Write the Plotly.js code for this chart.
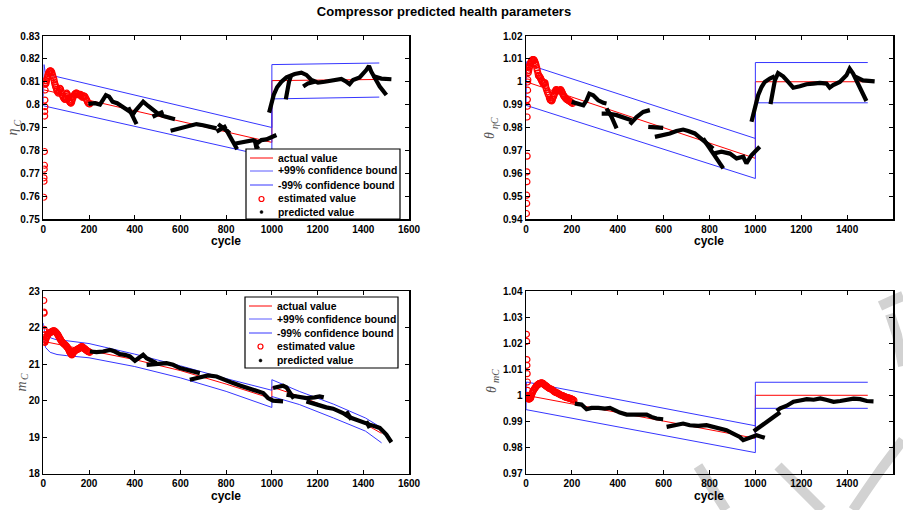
<!DOCTYPE html>
<html>
<head>
<meta charset="utf-8">
<script src="https://cdn.plot.ly/plotly-3.0.1.min.js"></script>
<style>
  html, body { margin: 0; padding: 0; background: #fff; }
  #chart { width: 903px; height: 510px; }
</style>
</head>
<body>
<div id="chart"></div>
<script>
// ---------- efficiency eta_C ----------
const etaActX = [0, 1000, 1000, 1470];
const etaAct = [0.8065, 0.7835, 0.8105, 0.811];
const etaUpX = [0, 3, 10, 1000, 1000, 1470];
const etaUp = [0.7995, 0.8175, 0.8134, 0.790, 0.8175, 0.8182];
const etaLoX = [0, 1000, 1000, 1470];
const etaLo = [0.7995, 0.777, 0.8025, 0.8033];
const etaEstX = [2, 3, 3, 4, 5, 5, 6, 6, 7, 7, 8, 8, 9,
  10, 12, 14, 16, 18, 20, 22, 24, 26, 28, 31, 33, 36, 38, 41, 44, 47, 49, 51, 53, 55, 58, 60, 63, 66, 68, 70, 73, 75, 78, 80, 83, 86, 89, 92, 95, 97, 99, 101, 103, 105, 107, 110, 112, 114, 116, 119, 121, 124, 126, 129, 131, 134, 137, 140, 143, 146, 150, 153, 157, 160, 163, 166, 170, 173, 176, 179, 182, 186, 190, 193, 197, 200, 203];
const etaEst = [0.7595, 0.7665, 0.768, 0.7718, 0.7735, 0.7795, 0.795, 0.797, 0.7991, 0.802, 0.8064, 0.8093, 0.8105,
  0.8090, 0.8095, 0.8104, 0.8112, 0.8120, 0.8128, 0.8135, 0.8140, 0.8144, 0.8147, 0.8148, 0.8147, 0.8144, 0.8138, 0.8128, 0.8118, 0.8108, 0.8098, 0.8090, 0.8083, 0.8076, 0.8067, 0.8060, 0.8054, 0.8050, 0.8056, 0.8062, 0.8071, 0.8068, 0.8060, 0.8052, 0.8042, 0.8035, 0.8030, 0.8025, 0.8023, 0.8028, 0.8035, 0.8045, 0.8050, 0.8045, 0.8038, 0.8028, 0.8020, 0.8015, 0.8012, 0.8008, 0.8006, 0.8012, 0.8020, 0.8028, 0.8035, 0.8040, 0.8045, 0.8048, 0.8050, 0.8050, 0.8048, 0.8045, 0.8042, 0.8043, 0.8045, 0.8040, 0.8032, 0.8035, 0.8038, 0.8037, 0.8035, 0.8028, 0.8020, 0.8013, 0.8006, 0.8004, 0.8003];
const etaPredX = [197, 226, 248, 262, 274, 288, 303, 323, 342, 361, 382, 401, null,
  372, 390, 408, null,
  393, 415, 437, 459, 481, 503, 525, 546, 576, null,
  478, 525, null,
  557, 583, 612, 641, 670, 699, 729, 758, null,
  765, 816, null,
  758, 801, null,
  801, 823, 848, null,
  830, 860, 889, 918, 940, 954, 976, 998, 1020, null,
  925, 932, 944, null,
  988, 998, 1008, 1023, 1042, 1064, 1085, 1100, 1129, 1151, 1173, 1202, 1231, 1260, 1282, 1304, 1326, 1340, 1355, 1384, 1413, 1425, 1435, 1450, 1472, 1501, null,
  1061, 1068, 1075, 1085, null,
  1442, 1479, 1523, null,
  1137, 1158, 1187];
const etaPred = [0.8003, 0.8006, 0.8000, 0.8020, 0.8041, 0.8035, 0.8013, 0.8006, 0.7994, 0.7977, 0.7965, 0.7955, null,
  0.7988, 0.7955, 0.7915, null,
  0.7962, 0.7991, 0.8013, 0.7994, 0.7977, 0.7959, 0.7950, 0.7944, 0.7936, null,
  0.7947, 0.7969, null,
  0.7886, 0.7892, 0.7901, 0.7907, 0.7915, 0.7910, 0.7904, 0.7896, null,
  0.7915, 0.7875, null,
  0.7882, 0.7907, null,
  0.7889, 0.7853, 0.7805, null,
  0.7828, 0.7834, 0.7838, 0.7845, 0.7834, 0.7845, 0.7848, 0.7857, 0.7867, null,
  0.7845, 0.7813, 0.7819, null,
  0.7965, 0.8006, 0.8042, 0.8076, 0.8100, 0.8119, 0.8130, 0.8134, 0.8140, 0.8130, 0.8108, 0.8096, 0.8100, 0.8105, 0.8108, 0.8112, 0.8100, 0.8090, 0.8108, 0.8119, 0.8151, 0.8169, 0.8144, 0.8115, 0.8079, 0.8042, null,
  0.8023, 0.8064, 0.8100, 0.8130, null,
  0.8125, 0.8114, 0.8111, null,
  0.8079, 0.8093, 0.8100];

// ---------- efficiency scaling theta_etaC ----------
const thEActX = [0, 1000, 1000, 1490];
const thEAct = [1.0, 0.9665, 1.0, 1.0];
const thEUpX = [0, 3, 10, 1000, 1000, 1490];
const thEUp = [0.9897, 1.0088, 1.0075, 0.9752, 1.0084, 1.0084];
const thELoX = [0, 1000, 1000, 1490];
const thELo = [0.9897, 0.9577, 0.9908, 0.9908];
const thEEstX = [2, 3, 3, 4, 4, 5, 5, 6, 6, 7, 7, 8, 8, 9,
  10, 12, 14, 16, 18, 20, 22, 24, 26, 28, 30, 33, 35, 37, 40, 42, 44, 47, 49, 52, 54, 56, 58, 61, 63, 65, 68, 70, 72, 75, 77, 79, 81, 83, 85, 87, 90, 93, 96, 99, 102, 105, 107, 109, 112, 115, 117, 120, 122, 124, 126, 129, 131, 134, 136, 139, 141, 144, 146, 149, 151, 154, 157, 160, 163, 166, 168, 171, 174, 177, 179, 182, 184, 187, 190, 193, 195, 199, 203];
const thEEst = [0.9424, 0.9468, 0.9504, 0.9563, 0.9606, 0.9675, 0.9846, 0.9893, 0.9922, 0.9963, 0.9999, 1.0009, 1.0047, 1.0065,
  1.0040, 1.0050, 1.0060, 1.0068, 1.0078, 1.0083, 1.0087, 1.0091, 1.0094, 1.0096, 1.0097, 1.0097, 1.0095, 1.0092, 1.0085, 1.0079, 1.0072, 1.0061, 1.0050, 1.0038, 1.0028, 1.0026, 1.0024, 1.0021, 1.0016, 1.0012, 1.0006, 1.0002, 0.9998, 0.9992, 0.9993, 0.9994, 0.9995, 0.9995, 0.9984, 0.9974, 0.9965, 0.9956, 0.9948, 0.9941, 0.9930, 0.9922, 0.9920, 0.9918, 0.9916, 0.9922, 0.9930, 0.9936, 0.9941, 0.9948, 0.9955, 0.9961, 0.9966, 0.9964, 0.9963, 0.9961, 0.9960, 0.9961, 0.9962, 0.9964, 0.9966, 0.9961, 0.9955, 0.9948, 0.9941, 0.9937, 0.9934, 0.9930, 0.9926, 0.9924, 0.9922, 0.9920, 0.9919, 0.9917, 0.9915, 0.9913, 0.9912, 0.9908, 0.9905];
const thEPredX = [199, 228, 250, 264, 276, 293, 315, 337, 351, null,
  330, 359, 395, 424, 460, null,
  351, 373, 395, null,
  453, 482, 511, 540, null,
  533, 569, 598, null,
  562, 598, 627, 656, 685, 707, 736, 758, 787, 816, null,
  772, 816, 860, null,
  816, 852, 889, 918, 947, 961, 983, 1019, null,
  983, 998, 1012, 1027, 1041, 1063, 1085, null,
  1066, 1074, 1085, 1099, 1121, 1143, 1165, 1194, 1223, 1252, 1281, 1310, 1324, 1339, 1368, 1397, 1411, 1426, 1440, 1462, 1484, null,
  1433, 1469, 1520];
const thEPred = [0.9912, 0.9902, 0.9897, 0.9919, 0.9948, 0.9941, 0.9919, 0.9908, 0.9905, null,
  0.9861, 0.9861, 0.9854, 0.9846, 0.9832, null,
  0.9883, 0.9846, 0.9796, null,
  0.9814, 0.9846, 0.9868, 0.9876, null,
  0.9803, 0.9800, 0.9798, null,
  0.9759, 0.9766, 0.9774, 0.9785, 0.9791, 0.9785, 0.9774, 0.9756, 0.9730, 0.9708, null,
  0.9752, 0.9686, 0.9621, null,
  0.9686, 0.9694, 0.9686, 0.9665, 0.9672, 0.9643, 0.9679, 0.9716, null,
  0.9825, 0.9890, 0.9941, 0.9977, 0.9999, 1.0014, 1.0024, null,
  0.9902, 0.9956, 1.0006, 1.0038, 1.0024, 0.9999, 0.9974, 0.9980, 0.9989, 0.9992, 0.9995, 0.9992, 0.9974, 0.9985, 0.9999, 1.0028, 1.0057, 1.0036, 1.0006, 0.9963, 0.9916, null,
  1.0024, 1.0006, 1.0002];

// ---------- mass flow m_C ----------
const mActX = [0, 200, 400, 600, 800, 1000, 1000, 1130, 1270, 1400, 1480];
const mAct = [21.62, 21.38, 21.12, 20.82, 20.45, 20.05, 20.37, 20.1, 19.75, 19.38, 19.1];
const mUpX = [0, 5, 30, 60, 100, 200, 400, 600, 800, 1000, 1000, 1120, 1270, 1410, 1480];
const mUp = [22.12, 21.9, 21.72, 21.66, 21.64, 21.56, 21.27, 20.95, 20.6, 20.28, 20.57, 20.25, 19.9, 19.52, 19.25];
const mLoX = [0, 10, 30, 60, 100, 200, 400, 600, 800, 1000, 1000, 1120, 1270, 1410, 1480];
const mLo = [21.75, 21.45, 21.32, 21.26, 21.23, 21.17, 20.93, 20.62, 20.25, 19.81, 20.11, 19.89, 19.52, 19.16, 18.84];
const mEstX = [2, 3, 3, 4, 4, 5, 6, 7,
  7, 9, 11, 13, 15, 17, 19, 22, 24, 27, 30, 32, 35, 38, 41, 44, 47, 50, 53, 55, 58, 61, 63, 66, 68, 71, 74, 76, 79, 82, 85, 87, 90, 93, 96, 98, 101, 103, 106, 108, 111, 113, 115, 117, 119, 121, 123, 125, 127, 130, 132, 134, 137, 140, 143, 146, 149, 151, 154, 157, 160, 163, 166, 168, 171, 173, 176, 178, 180, 182, 184, 186, 189, 192, 195, 197, 200, 204];
const mEst = [22.74, 22.42, 22.39, 21.95, 21.89, 21.8, 21.66, 21.6,
  21.60, 21.64, 21.68, 21.72, 21.75, 21.77, 21.79, 21.82, 21.83, 21.85, 21.86, 21.87, 21.88, 21.89, 21.90, 21.91, 21.91, 21.90, 21.88, 21.87, 21.85, 21.83, 21.81, 21.78, 21.75, 21.72, 21.69, 21.66, 21.63, 21.61, 21.59, 21.57, 21.55, 21.54, 21.52, 21.51, 21.49, 21.47, 21.45, 21.43, 21.40, 21.37, 21.34, 21.32, 21.30, 21.28, 21.26, 21.25, 21.27, 21.30, 21.32, 21.34, 21.36, 21.37, 21.38, 21.39, 21.40, 21.41, 21.42, 21.42, 21.44, 21.45, 21.47, 21.48, 21.47, 21.46, 21.44, 21.43, 21.42, 21.41, 21.40, 21.39, 21.37, 21.36, 21.35, 21.34, 21.33, 21.32];
const mPredX = [204, 233, 262, 291, 313, 335, 357, 379, 401, 415, 437, 452, 474, 495, null,
  452, 495, 539, 568, 597, 627, 663, 685, null,
  641, 685, 721, 758, 801, 830, 860, 896, 932, 962, 983, 1005, 1049, null,
  1005, 1027, 1049, 1064, 1078, 1096, null,
  1064, 1107, 1151, 1187, 1209, 1227, null,
  1151, 1195, 1238, 1268, 1311, 1340, 1384, 1428, 1472, 1501, 1523, null,
  1326, 1348, null,
  1413, 1428];
const mPred = [21.342, 21.324, 21.342, 21.388, 21.342, 21.270, 21.251, 21.206, 21.087, 21.160, 21.251, 21.160, 21.087, 21.024, null,
  20.978, 20.996, 21.024, 20.978, 20.887, 20.842, 20.796, 20.750, null,
  20.568, 20.632, 20.687, 20.659, 20.541, 20.477, 20.413, 20.341, 20.268, 20.204, 20.067, 19.995, 19.976, null,
  20.341, 20.386, 20.404, 20.359, 20.204, 20.049, null,
  20.159, 20.113, 20.067, 20.086, 20.113, 20.086, null,
  19.976, 19.885, 19.812, 19.776, 19.658, 19.539, 19.430, 19.339, 19.248, 19.066, 18.856, null,
  19.704, 19.476, null,
  19.43, 19.248];

// ---------- flow scaling theta_mC ----------
const thMActX = [0, 1000, 1000, 1490];
const thMAct = [1.0, 0.9835, 1.0, 1.0];
const thMUpX = [0, 2, 1000, 1000, 1490];
const thMUp = [0.9945, 1.0051, 0.9883, 1.005, 1.005];
const thMLoX = [0, 1000, 1000, 1490];
const thMLo = [0.9945, 0.978, 0.995, 0.995];
const thMEstX = [2, 3, 4, 4, 5, 6, 7, 8,
  6, 8, 10, 12, 14, 16, 18, 20, 22, 24, 27, 29, 32, 34, 37, 39, 42, 44, 47, 49, 52, 54, 56, 58, 61, 63, 65, 67, 69, 71, 73, 75, 78, 81, 84, 87, 90, 93, 96, 99, 102, 105, 108, 112, 115, 119, 122, 126, 129, 133, 137, 141, 144, 148, 151, 155, 158, 162, 166, 170, 173, 177, 180, 184, 188, 191, 195, 199, 202, 205, 209];
const thMEst = [1.0234, 1.0207, 1.0137, 1.0115, 1.0083, 1.0051, 1.0019, 1.0,
  0.9994, 0.9991, 0.9988, 0.9985, 0.9986, 0.9987, 0.9988, 0.9990, 0.9995, 1.0001, 1.0008, 1.0013, 1.0018, 1.0021, 1.0025, 1.0028, 1.0031, 1.0034, 1.0037, 1.0039, 1.0041, 1.0042, 1.0044, 1.0045, 1.0046, 1.0046, 1.0047, 1.0047, 1.0047, 1.0047, 1.0046, 1.0045, 1.0042, 1.0040, 1.0038, 1.0036, 1.0034, 1.0032, 1.0030, 1.0028, 1.0026, 1.0025, 1.0024, 1.0023, 1.0020, 1.0018, 1.0015, 1.0013, 1.0011, 1.0010, 1.0008, 1.0007, 1.0005, 1.0003, 1.0001, 1.0000, 0.9999, 0.9998, 0.9996, 0.9994, 0.9993, 0.9992, 0.9991, 0.9990, 0.9989, 0.9988, 0.9987, 0.9985, 0.9984, 0.9983, 0.9981];
const thMPredX = [213, 242, 264, 286, 315, 344, 366, 388, 409, 439, 468, 497, 526, 547, 569, 598, null,
  613, 656, 685, 714, 751, 787, 816, 845, 874, 903, 932, 947, 976, 1005, 1041, null,
  993, 1005, 1027, 1050, 1075, 1093, 1108, null,
  1093, 1108, 1137, 1166, 1195, 1224, 1254, 1283, 1312, 1341, 1370, 1399, 1428, 1457, 1486, 1515];
const thMPred = [0.99683, 0.99644, 0.99466, 0.99517, 0.99517, 0.99491, 0.99517, 0.99427, 0.99338, 0.99261, 0.99261, 0.99236, 0.99261, 0.99172, 0.99108, 0.99082, null,
  0.98789, 0.98852, 0.98916, 0.98852, 0.98827, 0.98852, 0.98789, 0.98725, 0.98661, 0.98533, 0.98405, 0.98278, 0.98367, 0.98469, 0.98367, null,
  0.9862, 0.9870, 0.9885, 0.9898, 0.9912, 0.9924, 0.9935, null,
  0.9940, 0.9950, 0.9960, 0.9975, 0.9980, 0.9985, 0.9983, 0.9988, 0.9982, 0.9975, 0.9978, 0.9983, 0.9987, 0.9985, 0.9978, 0.9977];

const legendLabels = ['actual value', '+99% confidence bound', '-99% confidence bound', 'estimated value', 'predicted value'];
// y-axis symbols: [main glyph, subscript]
const ySymbols = [['η', 'C'], ['θ', 'ηC'], ['m', 'C'], ['θ', 'mC']];

const SANS = 'Liberation Sans, Arial, sans-serif';
const SERIF = 'Liberation Serif, Times New Roman, serif';
const tickLabelFont = { family: SANS, size: 10, weight: 'bold', color: '#000' };

const RED = '#ff0000', BLUE = '#3636ff', BLACK = '#000000';
const W = 903, H = 510;
const fx = p => p / W;          // pixel -> paper x
const fy = p => 1 - p / H;      // pixel -> paper y

function panelTraces(xa, ya, act, up, lo, est, pred) {
  return [
    { x: act[0], y: act[1], mode: 'lines', line: { color: RED, width: 1 }, xaxis: xa, yaxis: ya },
    { x: up[0], y: up[1], mode: 'lines', line: { color: BLUE, width: 1 }, xaxis: xa, yaxis: ya },
    { x: lo[0], y: lo[1], mode: 'lines', line: { color: BLUE, width: 1 }, xaxis: xa, yaxis: ya },
    { x: est[0], y: est[1], mode: 'markers', marker: { symbol: 'circle-open', size: 6, color: RED, line: { width: 1.2, color: RED } }, xaxis: xa, yaxis: ya },
    { x: pred[0], y: pred[1], mode: 'lines', line: { color: BLACK, width: 4.2 }, connectgaps: false, xaxis: xa, yaxis: ya }
  ];
}

const data = [].concat(
  panelTraces('x', 'y', [etaActX, etaAct], [etaUpX, etaUp], [etaLoX, etaLo], [etaEstX, etaEst], [etaPredX, etaPred]),
  panelTraces('x2', 'y2', [thEActX, thEAct], [thEUpX, thEUp], [thELoX, thELo], [thEEstX, thEEst], [thEPredX, thEPred]),
  panelTraces('x3', 'y3', [mActX, mAct], [mUpX, mUp], [mLoX, mLo], [mEstX, mEst], [mPredX, mPred]),
  panelTraces('x4', 'y4', [thMActX, thMAct], [thMUpX, thMUp], [thMLoX, thMLo], [thMEstX, thMEst], [thMPredX, thMPred])
);

function axis(domain, range, tick0, dtick, anchor) {
  return {
    domain: domain, range: range, anchor: anchor,
    tickmode: 'linear', tick0: tick0, dtick: dtick,
    ticks: 'inside', ticklen: 4, tickwidth: 1, tickcolor: '#000',
    showline: true, linecolor: '#000', linewidth: 1.5, mirror: 'ticks',
    showgrid: false, zeroline: false, tickfont: tickLabelFont, fixedrange: true
  };
}

const xLeft = [fx(43.3), fx(409)], xRight = [fx(526), fx(893)];
const yTop = [fy(219), fy(36)], yBot = [fy(473.5), fy(291)];
const eps = 1e-7;

const layout = {
  width: W, height: H,
  margin: { l: 0, r: 0, t: 0, b: 0 },
  paper_bgcolor: '#fff', plot_bgcolor: '#fff',
  showlegend: false,
  title: {
    text: 'Compressor predicted health parameters',
    x: fx(444), xanchor: 'center', y: fy(11), yanchor: 'middle',
    font: { family: SANS, size: 13, weight: 'bold', color: '#000' }
  },
  xaxis: axis(xLeft, [0, 1600], 0, 200, 'y'),
  yaxis: axis(yTop, [0.75 - eps, 0.83 + eps], 0.75, 0.01, 'x'),
  xaxis2: axis(xRight, [0, 1600], 0, 200, 'y2'),
  yaxis2: axis(yTop, [0.94 - eps, 1.02 + eps], 0.94, 0.01, 'x2'),
  xaxis3: axis(xLeft, [0, 1600], 0, 200, 'y3'),
  yaxis3: axis(yBot, [18, 23], 18, 1, 'x3'),
  xaxis4: axis(xRight, [0, 1600], 0, 200, 'y4'),
  yaxis4: axis(yBot, [0.97 - eps, 1.04 + eps], 0.97, 0.01, 'x4'),
  shapes: [],
  annotations: []
};

function note(text, x, y, font, extra) {
  layout.annotations.push(Object.assign({ text: text, x: fx(x), y: fy(y), xref: 'paper', yref: 'paper',
    showarrow: false, font: font, xanchor: 'center', yanchor: 'middle' }, extra || {}));
}

// x-axis titles
const axisTitleFont = { family: SANS, size: 12, weight: 'bold', color: '#000' };
[[226, 241], [709, 241], [226, 496], [709, 496]].forEach(p => note('cycle', p[0], p[1], axisTitleFont));

// y-axis symbols, rotated, subscript drawn smaller and shifted toward the axis
const symFont = { family: SERIF, size: 14, color: '#555', style: 'italic' };
const subFont = { family: SERIF, size: 10, color: '#555', style: 'italic' };
// [main x, main y, sub x, sub y]
const symPos = [[12.5, 132, 16.5, 123], [490, 135, 494, 123], [20.5, 387, 24.5, 376.5], [491, 390, 495, 376]];
ySymbols.forEach((s, i) => {
  const p = symPos[i];
  note(s[0], p[0], p[1], symFont, { textangle: -90 });
  note(s[1], p[2], p[3], subFont, { textangle: -90 });
});

// boxed legend (line keys, marker keys, labels)
function addLegend(left, top, right, bottom, rows) {
  layout.shapes.push({ type: 'rect', xref: 'paper', yref: 'paper', layer: 'above',
    x0: fx(left), x1: fx(right), y0: fy(bottom), y1: fy(top),
    line: { color: '#000', width: 1.2 }, fillcolor: '#fff' });
  const keyL = left + 4, keyR = left + 27, keyC = (keyL + keyR) / 2, textX = left + 30;
  const keyColors = [RED, '#5a5aff', BLUE];
  rows.forEach((ry, i) => {
    if (i < 3) {
      layout.shapes.push({ type: 'line', xref: 'paper', yref: 'paper', layer: 'above',
        x0: fx(keyL), x1: fx(keyR), y0: fy(ry), y1: fy(ry), line: { color: keyColors[i], width: 1 } });
    } else if (i === 3) {
      layout.shapes.push({ type: 'circle', xref: 'paper', yref: 'paper', layer: 'above',
        x0: fx(keyC - 2.5), x1: fx(keyC + 2.5), y0: fy(ry + 2.5), y1: fy(ry - 2.5), line: { color: RED, width: 1.2 } });
    } else {
      layout.shapes.push({ type: 'circle', xref: 'paper', yref: 'paper', layer: 'above',
        x0: fx(keyC - 1.5), x1: fx(keyC + 1.5), y0: fy(ry + 1.5), y1: fy(ry - 1.5), line: { color: BLACK, width: 0.5 }, fillcolor: BLACK });
    }
    note(legendLabels[i], textX, ry, { family: SANS, size: 10.4, weight: 'bold', color: '#000' }, { xanchor: 'left' });
  });
}
addLegend(246, 149, 400, 219, [158, 171, 185, 199, 212]);
addLegend(245, 297, 398, 368, [306, 319, 333, 346.5, 360.5]);

// faint watermark strokes in the lower right corner
function strokePath(pts) {
  return pts.map((p, i) => (i ? 'L' : 'M') + fx(p[0]).toFixed(5) + ',' + fy(p[1]).toFixed(5)).join(' ');
}
[
  [[698, 466], [712, 488], [726, 510]],
  [[778, 466], [800, 488], [822, 510]],
  [[853, 510], [868, 488], [882, 468], [903, 440]],
  [[880, 306], [893, 300], [903, 296]],
  [[890, 314], [897, 335], [903, 366]]
].forEach(pts => {
  layout.shapes.push({ type: 'path', xref: 'paper', yref: 'paper', layer: 'below',
    path: strokePath(pts), line: { color: '#d2d2d2', width: 10 } });
});

Plotly.newPlot('chart', data, layout, { staticPlot: true, displayModeBar: false });
</script>
</body>
</html>
